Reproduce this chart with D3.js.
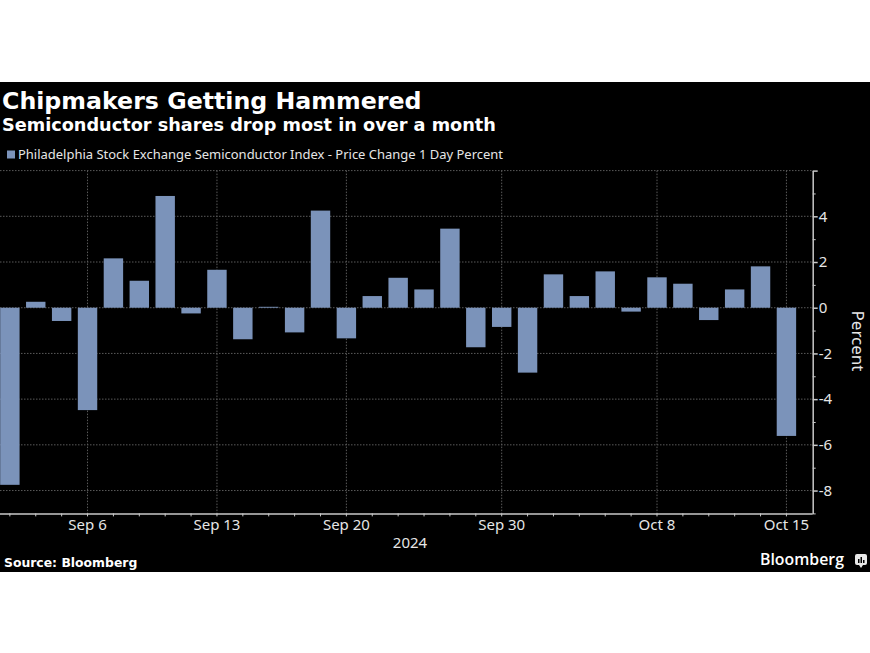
<!DOCTYPE html>
<html>
<head>
<meta charset="utf-8">
<script src="https://cdn.jsdelivr.net/npm/d3@7"></script>
<style>
  html, body { margin: 0; padding: 0; background: #fff; }
  svg { display: block; }
</style>
</head>
<body>
<svg id="chart" width="870" height="653"></svg>
<script>
// ---- Data ----
const dates = ["Sep 3","Sep 4","Sep 5","Sep 6","Sep 9","Sep 10","Sep 11","Sep 12","Sep 13",
  "Sep 16","Sep 17","Sep 18","Sep 19","Sep 20","Sep 23","Sep 24","Sep 25","Sep 26","Sep 27",
  "Sep 30","Oct 1","Oct 2","Oct 3","Oct 4","Oct 7","Oct 8","Oct 9","Oct 10","Oct 11",
  "Oct 14","Oct 15"];
const changes = [-7.75, 0.26, -0.58, -4.48, 2.16, 1.18, 4.89, -0.25, 1.66,
  -1.38, 0.04, -1.08, 4.25, -1.34, 0.51, 1.31, 0.80, 3.46, -1.73,
  -0.84, -2.84, 1.46, 0.51, 1.59, -0.17, 1.33, 1.05, -0.54, 0.80,
  1.81, -5.61];
const xLabels = ["Sep 6","Sep 13","Sep 20","Sep 30","Oct 8","Oct 15"];
const yMajorTicks = [-8, -6, -4, -2, 0, 2, 4, 6];
const yMinorTicks = [-9, -7, -5, -3, -1, 1, 3, 5];
const yLabelTicks = [-8, -6, -4, -2, 0, 2, 4];

const title = "Chipmakers Getting Hammered";
const subtitle = "Semiconductor shares drop most in over a month";
const legendLabel = "Philadelphia Stock Exchange Semiconductor Index - Price Change 1 Day Percent";
const yearLabel = "2024";
const sourceLabel = "Source: Bloomberg";

// ---- Layout ----
const svg = d3.select("#chart");
const plotLeft = 0, plotRight = 812.7, plotTop = 170.6, plotBottom = 513.4;
const barColor = "#7b93ba";
const axisColor = "#c8c8c8";
const textColor = "#e6e6e6";

svg.append("rect").attr("x", 0).attr("y", 82).attr("width", 870).attr("height", 490).attr("fill", "#000");

const x = d3.scaleBand().domain(dates).range([-16.4, plotRight]).paddingInner(0.25).paddingOuter(0.64);
const y = d3.scaleLinear().domain([-9, 6]).range([plotBottom, plotTop]);

// horizontal grid
svg.append("g").selectAll("line").data(yMajorTicks).join("line")
  .attr("x1", plotLeft).attr("x2", plotRight)
  .attr("y1", d => y(d)).attr("y2", d => y(d))
  .attr("stroke", "#5a5a5a").attr("stroke-width", 1).attr("stroke-dasharray", "1.5,1.5");

// vertical grid at labelled dates
svg.append("g").selectAll("line").data(xLabels).join("line")
  .attr("x1", d => x(d) + x.bandwidth() / 2).attr("x2", d => x(d) + x.bandwidth() / 2)
  .attr("y1", plotTop).attr("y2", plotBottom)
  .attr("stroke", "#5a5a5a").attr("stroke-width", 1).attr("stroke-dasharray", "1.5,1.5");

// bars
svg.append("g").selectAll("rect").data(dates).join("rect")
  .attr("x", d => x(d))
  .attr("width", x.bandwidth())
  .attr("y", (d, i) => y(Math.max(0, changes[i])))
  .attr("height", (d, i) => Math.max(0.8, Math.abs(y(changes[i]) - y(0))))
  .attr("fill", barColor);

// x axis
const xAxis = d3.axisBottom(x).tickSize(3).tickSizeOuter(0)
  .tickFormat(d => xLabels.includes(d) ? d : "");
const gx = svg.append("g").attr("transform", `translate(0,${plotBottom})`).call(xAxis);
gx.select(".domain").remove();
gx.append("line").attr("x1", 0).attr("x2", plotRight).attr("y1", 0.5).attr("y2", 0.5)
  .attr("stroke", axisColor).attr("stroke-width", 1.5);
gx.selectAll(".tick line").attr("stroke", axisColor);
gx.selectAll(".tick text").attr("fill", textColor).attr("font-family", "Noto Sans")
  .attr("font-size", 15).attr("dy", 0).attr("y", 17);

// y axis (right)
const yAxis = d3.axisRight(y).tickValues(yMajorTicks).tickSize(5).tickSizeOuter(0)
  .tickFormat(d => yLabelTicks.includes(d) ? d3.format("d")(d).replace("−", "-") : "");
const gy = svg.append("g").attr("transform", `translate(${plotRight},0)`).call(yAxis);
gy.select(".domain").attr("stroke", axisColor).attr("stroke-width", 1.5);
gy.selectAll(".tick line").attr("stroke", axisColor).attr("stroke-width", 1.5);
gy.selectAll(".tick text").attr("fill", textColor).attr("font-family", "Noto Sans")
  .attr("font-size", 15).attr("x", 6);
const gyMinor = svg.append("g").attr("transform", `translate(${plotRight},0)`)
  .call(d3.axisRight(y).tickValues(yMinorTicks).tickSize(3).tickFormat(""));
gyMinor.select(".domain").remove();
gyMinor.selectAll(".tick line").attr("stroke", axisColor);

// axis title
svg.append("text").attr("transform", "translate(852,341) rotate(90)")
  .attr("text-anchor", "middle").attr("fill", textColor)
  .attr("font-family", "Noto Sans").attr("font-size", 17).text("Percent");

svg.append("text").attr("x", 410).attr("y", 548).attr("text-anchor", "middle")
  .attr("fill", textColor).attr("font-family", "Noto Sans").attr("font-size", 15).text(yearLabel);

// titles
svg.append("text").attr("x", 2).attr("y", 109).attr("fill", "#fff")
  .attr("font-family", "DejaVu Sans").attr("font-weight", "bold").attr("font-size", 23.7)
  .text(title);
svg.append("text").attr("x", 2).attr("y", 131).attr("fill", "#fff")
  .attr("font-family", "DejaVu Sans").attr("font-weight", "bold").attr("font-size", 17.7)
  .text(subtitle);

// legend
svg.append("rect").attr("x", 7).attr("y", 150.5).attr("width", 8).attr("height", 8).attr("fill", barColor);
svg.append("text").attr("x", 18).attr("y", 159).attr("fill", textColor)
  .attr("font-family", "Noto Sans").attr("font-size", 13)
  .attr("textLength", 485).attr("lengthAdjust", "spacingAndGlyphs")
  .text(legendLabel);

// footer
svg.append("text").attr("x", 4).attr("y", 566.5).attr("fill", "#fff")
  .attr("font-family", "DejaVu Sans").attr("font-weight", "bold").attr("font-size", 12.4)
  .text(sourceLabel);
svg.append("text").attr("x", 760).attr("y", 565).attr("fill", "#fff")
  .attr("font-family", "Open Sans").attr("font-weight", 600).attr("font-size", 16.5)
  .attr("textLength", 84).attr("lengthAdjust", "spacingAndGlyphs")
  .text("Bloomberg");
// logo icon
const logo = svg.append("g").attr("transform", "translate(855,554)");
logo.append("rect").attr("width", 12).attr("height", 11).attr("rx", 2).attr("fill", "#e8e8e8");
logo.append("path").attr("d", "M4,11 L6,14 L8,11 Z").attr("fill", "#e8e8e8");
[[3, 5, 4], [5.5, 3, 6], [8, 6, 3]].forEach(([bx, by, bh]) =>
  logo.append("rect").attr("x", bx).attr("y", by).attr("width", 1.5).attr("height", bh).attr("fill", "#000"));
</script>
</body>
</html>
